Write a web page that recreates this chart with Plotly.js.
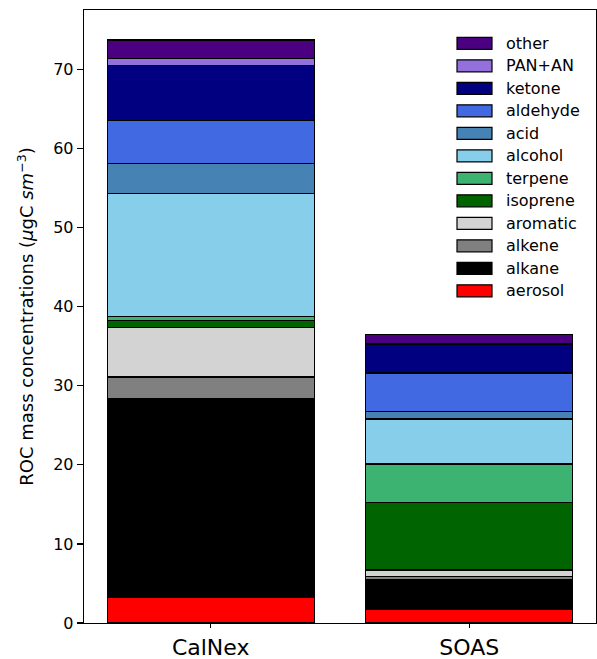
<!DOCTYPE html>
<html>
<head>
<meta charset="utf-8">
<script src="https://cdn.plot.ly/plotly-3.0.1.min.js"></script>
<style>html,body{margin:0;padding:0;background:#fff;}</style>
</head>
<body>
<div id="chart" style="width:597px;height:659px;"></div>
<script>
const campaigns = ["CalNex", "SOAS"];
const species = ["aerosol", "alkane", "alkene", "aromatic", "isoprene", "terpene", "alcohol", "acid", "aldehyde", "ketone", "PAN+AN", "other"];
const colors = ["#ff0000", "#000000", "#808080", "#d3d3d3", "#006400", "#3cb371", "#87ceeb", "#4682b4", "#4169e1", "#000080", "#9370db", "#4b0082"];
const calnex = [3.3, 25.1, 2.7, 6.3, 0.8, 0.6, 15.5, 3.8, 5.4, 7.0, 0.9, 2.3];
const soas = [1.7, 3.8, 0.4, 0.8, 8.5, 4.9, 5.7, 0.9, 4.9, 3.6, 0.15, 1.1];

const traces = species.map((name, i) => ({
  type: "bar",
  name: name,
  x: campaigns,
  y: [calnex[i], soas[i]],
  width: 0.8,
  marker: {color: colors[i], line: {color: "#000000", width: 1.2}},
  showlegend: false
}));

// Legend drawn as shapes + text (matplotlib-style wide patches), top entry = last species
const W = 597, H = 659, ML = 84, MR = 1, MT = 10, MB = 36;
const pw = W - ML - MR, ph = H - MT - MB;
const px2x = p => (p - ML) / pw;
const py2y = p => (H - MB - p) / ph;
const legLeft = 457, legBoxW = 35, legBoxH = 12, legTop = 43.3, legPitch = 22.5, legText = 504;
const shapes = [];
const annotations = [];
species.slice().reverse().forEach((name, k) => {
  const i = species.length - 1 - k;
  const cy = legTop + k * legPitch;
  shapes.push({
    type: "rect", xref: "paper", yref: "paper",
    x0: px2x(legLeft), x1: px2x(legLeft + legBoxW),
    y0: py2y(cy + legBoxH / 2), y1: py2y(cy - legBoxH / 2),
    fillcolor: colors[i], line: {color: "#000000", width: 1.2}
  });
  annotations.push({
    xref: "paper", yref: "paper", x: px2x(legText), y: py2y(cy),
    xanchor: "left", yanchor: "middle", text: name, showarrow: false,
    font: {family: "DejaVu Sans", size: 16, color: "#000000"}
  });
});

const layout = {
  width: W,
  height: H,
  margin: {l: ML, r: MR, t: MT, b: MB},
  barmode: "stack",
  paper_bgcolor: "#ffffff",
  plot_bgcolor: "#ffffff",
  font: {family: "DejaVu Sans", color: "#000000", size: 16},
  showlegend: false,
  shapes: shapes,
  annotations: annotations,
  xaxis: {
    range: [-0.49, 1.49],
    showline: true, mirror: true, linecolor: "#000000", linewidth: 1.3,
    ticks: "outside", ticklen: 4, tickcolor: "#000000", tickwidth: 1.3,
    tickfont: {family: "DejaVu Sans", size: 22},
    showgrid: false, zeroline: false
  },
  yaxis: {
    range: [0, 77.5],
    tickvals: [0, 10, 20, 30, 40, 50, 60, 70],
    showline: true, mirror: true, linecolor: "#000000", linewidth: 1.3,
    ticks: "outside", ticklen: 6, tickcolor: "#000000", tickwidth: 1.3,
    tickfont: {family: "DejaVu Sans", size: 16},
    showgrid: false, zeroline: false,
    title: {text: "ROC mass concentrations (<i>μ</i>gC <i>sm</i><sup>−3</sup>)", font: {family: "DejaVu Sans", size: 18}, standoff: 14}
  }
};

Plotly.newPlot("chart", traces, layout, {staticPlot: true});
</script>
</body>
</html>
